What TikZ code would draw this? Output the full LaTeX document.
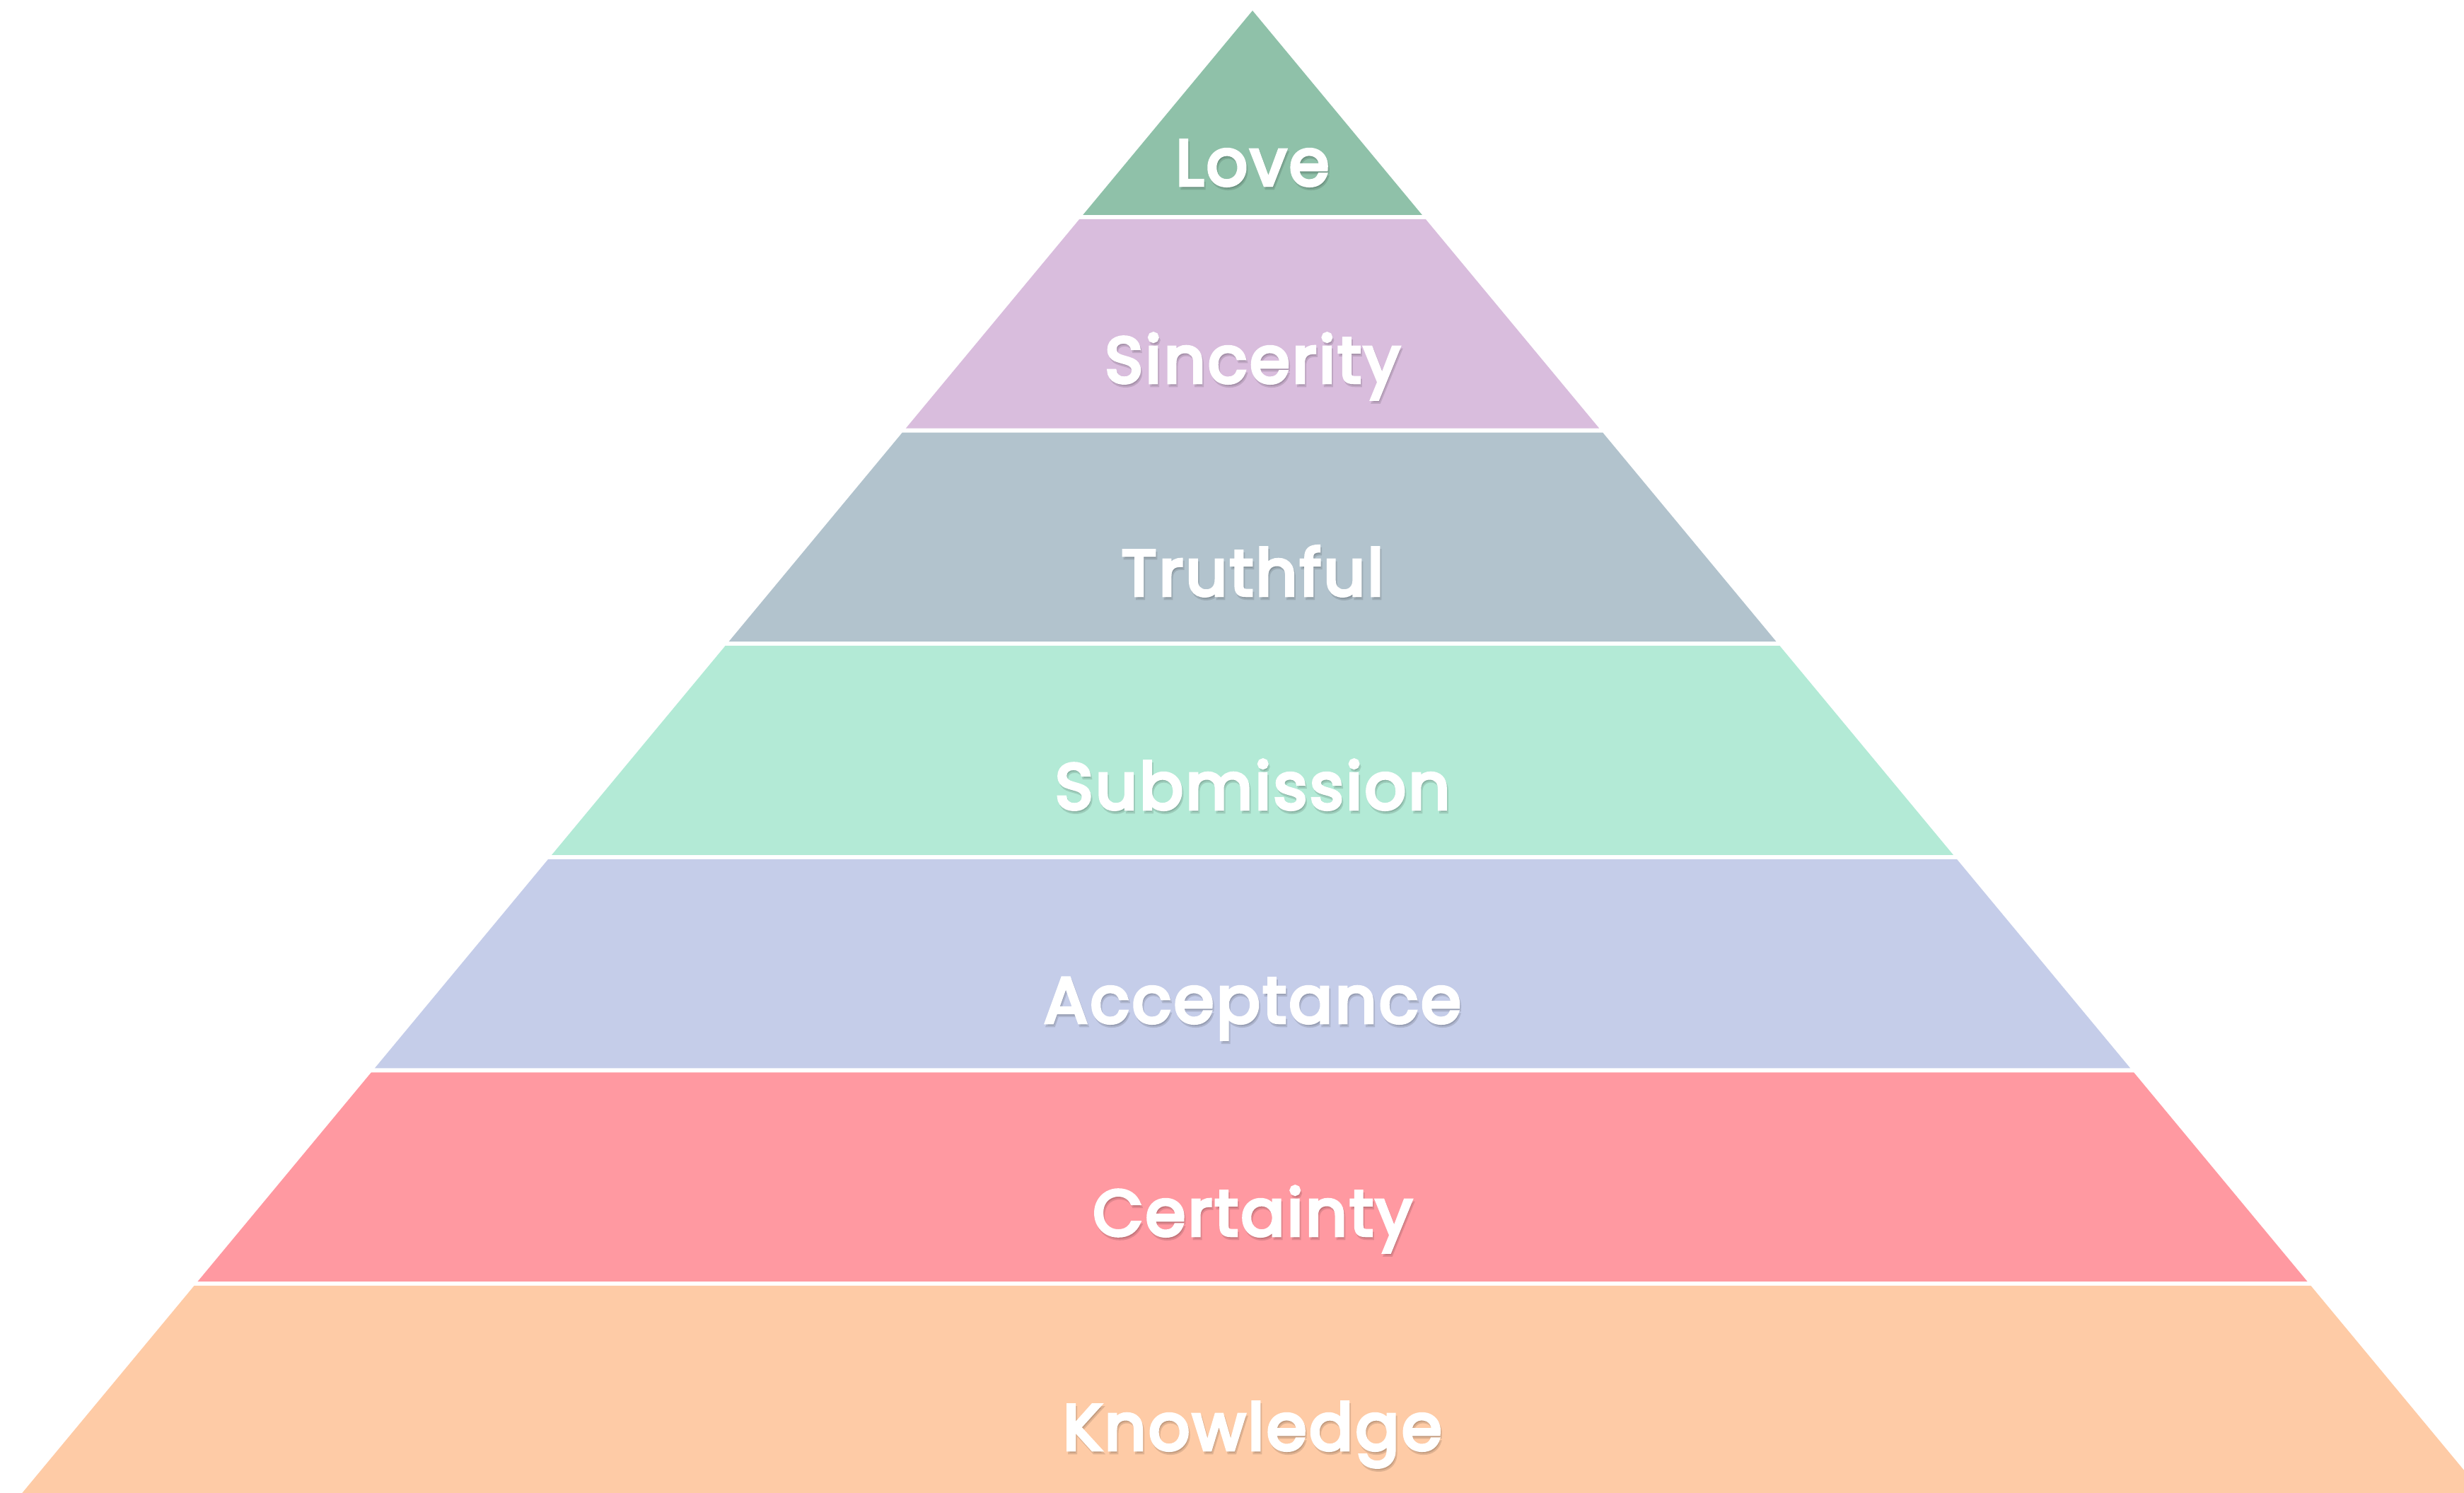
\documentclass[tikz,border=0pt]{standalone}
\usepackage{fontspec}
\setmainfont{Poppins}
\newfontfamily\tierfont[FakeBold=5,LetterSpace=4]{Poppins}
\usepackage{tikz}
\usepackage{xcolor}
\definecolor{lovegreen}{HTML}{8FC1A9}
\definecolor{sincpurple}{HTML}{D9BDDD}
\definecolor{truthgray}{HTML}{B2C3CD}
\definecolor{submmint}{HTML}{B3EAD6}
\definecolor{acceplav}{HTML}{C5CDE9}
\definecolor{certpink}{HTML}{FF99A1}
\definecolor{knowpeach}{HTML}{FECBA6}
% apex at (17.71,20.95), half width = 0.83 * depth
\newcommand{\tier}[3]{%
  \fill[tierfill,fill=#1]
    ({17.71-0.83*#2},{20.95-#2}) -- ({17.71+0.83*#2},{20.95-#2}) --
    ({17.71+0.83*#3},{20.95-#3}) -- ({17.71-0.83*#3},{20.95-#3}) -- cycle;}
\tikzset{
  tierfill/.style={draw=none},
  tierlabel/.style={anchor=base,text=white,inner sep=0pt,
                    font=\tierfont\fontsize{26}{31}\selectfont},
  tiershadow/.style={tierlabel,text=black,opacity=0.12}
}

\begin{document}
\begin{tikzpicture}[x=1cm,y=1cm]
    \path[use as bounding box] (0,0) rectangle (34.84,21.10);
    \clip (0,0) rectangle (34.84,21.10);

    \tier{lovegreen}{0}{2.89}
    \tier{sincpurple}{2.95}{5.906}
    \tier{truthgray}{5.966}{8.922}
    \tier{submmint}{8.982}{11.938}
    \tier{acceplav}{11.998}{14.954}
    \tier{certpink}{15.014}{17.97}
    \tier{knowpeach}{18.03}{21.0}

    \node[tiershadow] (loveS) at (17.73,18.44) {Love};
    \node[tierlabel]  (love)  at (17.71,18.48) {Love};
    \node[tiershadow] (sincS) at (17.73,15.65) {Sincerity};
    \node[tierlabel]  (sinc)  at (17.71,15.69) {Sincerity};
    \node[tiershadow] (truthS) at (17.73,12.64) {Truthful};
    \node[tierlabel]  (truth)  at (17.71,12.68) {Truthful};
    \node[tiershadow] (submS) at (17.73,9.62) {Submission};
    \node[tierlabel]  (subm)  at (17.71,9.66) {Submission};
    \node[tiershadow] (accepS) at (17.73,6.60) {Acceptance};
    \node[tierlabel]  (accep)  at (17.71,6.64) {Acceptance};
    \node[tiershadow] (certS) at (17.73,3.59) {Certainty};
    \node[tierlabel]  (cert)  at (17.71,3.63) {Certainty};
    \node[tiershadow] (knowS) at (17.73,0.56) {Knowledge};
    \node[tierlabel]  (know)  at (17.71,0.60) {Knowledge};
  \end{tikzpicture}
\end{document}
